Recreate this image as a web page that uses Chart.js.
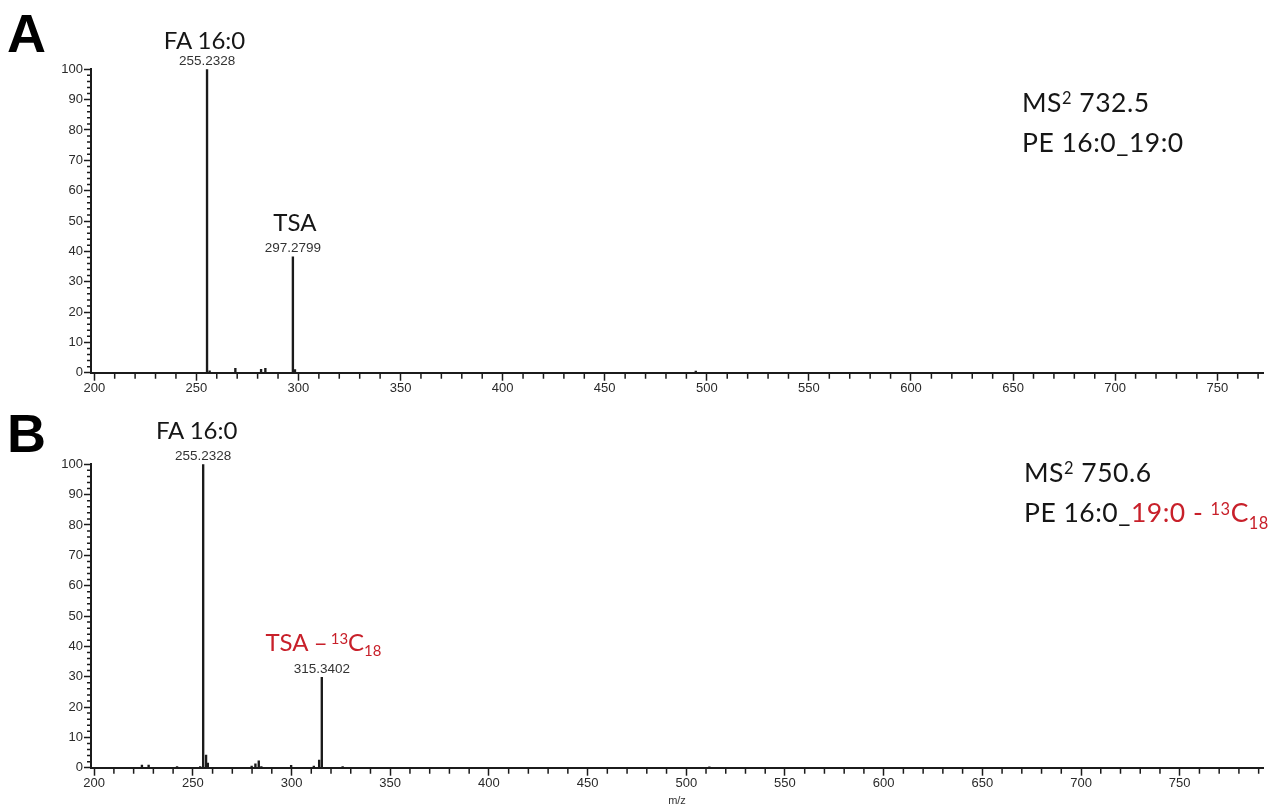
<!DOCTYPE html>
<html>
<head>
<meta charset="utf-8">
<script src="https://cdn.jsdelivr.net/npm/chart.js@4.4.1/dist/chart.umd.min.js"></script>
<style>
  html, body { margin: 0; padding: 0; background: #fff; }
  body { width: 1288px; height: 810px; position: relative; overflow: hidden; font-family: Lato, "Open Sans", sans-serif; }
  .panel { position: absolute; left: 0; width: 1288px; }
  #panelA { top: 0; height: 400px; }
  #panelB { top: 400px; height: 410px; }
  .letter { position: absolute; left: 7px; font: bold 54px "Liberation Sans", Arial, sans-serif; line-height: 54px; color: #000; }
  .info { position: absolute; font-size: 26.5px; letter-spacing: 0.5px; line-height: 37.7px; color: #161616; white-space: nowrap; }
  .tag { position: absolute; white-space: nowrap; transform: translate(-50%, -50%); line-height: 1; }
  .tag.mz { font: 13.5px "Liberation Sans", Arial, sans-serif; color: #333; }
  .tag.name { font-size: 24px; color: #161616; }
  .red { color: #c8202a; }
  .sup { font-size: 0.62em; position: relative; top: -0.45em; }
  .sub { font-size: 0.62em; position: relative; top: 0.38em; }
</style>
</head>
<body>
<div class="panel" id="panelA"><canvas id="chartA" width="1288" height="400"></canvas></div>
<div class="panel" id="panelB"><canvas id="chartB" width="1288" height="410"></canvas></div>

<div class="letter" style="top:6px">A</div>
<div class="letter" style="top:406px">B</div>

<div class="info" style="left:1022px; top:83.6px">MS<span class="sup">2</span> 732.5<br>PE 16:0_19:0</div>
<div class="info" style="left:1024px; top:453.6px">MS<span class="sup">2</span> 750.6<br>PE 16:0_<span class="red">19:0 - <span class="sup">13</span>C<span class="sub">18</span></span></div>

<script>
// m/z range shared by both spectra
const mzMin = 198.4;

// spectrum A: MS2 of 732.5
const mzA  = [255.2328, 256.5, 269.1, 281.7, 283.8, 297.2799, 298.3, 494.6];
const intA = [100,      0.6,   1.4,   1.1,   1.4,   38.2,     1.0,   0.5];
const mzMaxA = 772.4;
const tagMzA   = [255.2328, 297.2799];
const tagNameA = ['FA 16:0', 'TSA'];

// spectrum B: MS2 of 750.6 (13C18 labelled)
const mzB  = [224.2, 227.6, 242.0, 253.7, 255.2328, 256.7, 257.6, 279.8, 281.7, 283.4, 284.7, 299.8, 311.3, 314.0, 315.3402, 325.9, 511.7];
const intB = [0.9,   0.9,   0.4,   0.4,   100,      4.2,   1.5,   0.5,   1.3,   2.3,   0.4,   0.8,   0.5,   2.5,   29.8,     0.4,   0.3];
const mzMaxB = 792.2;
const tagMzB   = [255.2328, 315.3402];
const tagNameB = ['FA 16:0', '<span class="red">TSA –<span class="sup" style="margin-left:3px">13</span>C<span class="sub">18</span></span>'];

// labelled every 50, minor marks every 10 (x) and 2 (y)
const xMajor = 50, xMinor = 10, yMajor = 10, yMinor = 2;

// small nudges for the name labels (px), picked by eye
const nudgeA = [{ dx: -2.5, dy: -29.3 }, { dx: 2, dy: -35 }];
const nudgeB = [{ dx: -6.5, dy: -34.3 }, { dx: 1.6, dy: -35.6 }];

const ink = '#1b1b1b';
const tickFont = { family: '"Liberation Sans", Arial, sans-serif', size: 13 };

const minorTicks = {
  id: 'minorTicks',
  afterDraw(chart) {
    const { ctx, scales: { x, y } } = chart;
    ctx.save();
    ctx.strokeStyle = ink;
    ctx.lineWidth = 1.5;
    ctx.beginPath();
    for (let v = Math.ceil(x.min / xMinor) * xMinor; v <= x.max; v += xMinor) {
      if (v % xMajor === 0) continue;
      const px = x.getPixelForValue(v);
      ctx.moveTo(px, x.top);
      ctx.lineTo(px, x.top + 6);
    }
    for (let v = yMinor; v < y.max; v += yMinor) {
      if (v % yMajor === 0) continue;
      const py = y.getPixelForValue(v);
      ctx.moveTo(y.right, py);
      ctx.lineTo(y.right - 4, py);
    }
    ctx.stroke();
    ctx.restore();
  }
};

// peak labels are html, placed from the chart scales after each draw
function peakTags(panelTop, mzs, ints, tagMz, tagNames, nudges) {
  const items = tagMz.map((m, i) => {
    const mzEl = document.createElement('div');
    mzEl.className = 'tag mz';
    mzEl.textContent = m.toFixed(4);
    const nameEl = document.createElement('div');
    nameEl.className = 'tag name';
    nameEl.innerHTML = tagNames[i];
    document.body.appendChild(mzEl);
    document.body.appendChild(nameEl);
    return { mz: m, height: ints[mzs.indexOf(m)], mzEl, nameEl, nudge: nudges[i] };
  });
  return {
    id: 'peakTags',
    afterDraw(chart) {
      const { x, y } = chart.scales;
      items.forEach(it => {
        const px = x.getPixelForValue(it.mz);
        const py = panelTop + y.getPixelForValue(it.height);
        it.mzEl.style.left = px + 'px';
        it.mzEl.style.top = (py - 9.5) + 'px';
        it.nameEl.style.left = (px + it.nudge.dx) + 'px';
        it.nameEl.style.top = (py + it.nudge.dy) + 'px';
      });
    }
  };
}

function makeSpectrum(canvasId, mzs, ints, mzMax, padTop, axisHeight, withTitle, tags) {
  return new Chart(document.getElementById(canvasId), {
    type: 'bar',
    data: {
      datasets: [{
        data: mzs.map((m, i) => ({ x: m, y: ints[i] })),
        backgroundColor: ink,
        borderWidth: 0,
        barThickness: 1.7
      }]
    },
    options: {
      responsive: false,
      animation: false,
      events: [],
      layout: { padding: { top: padTop, right: 25, left: 0, bottom: 0 } },
      plugins: { legend: { display: false }, tooltip: { enabled: false } },
      scales: {
        x: {
          type: 'linear',
          offset: false,
          min: mzMin,
          max: mzMax,
          // chart.js drops 200 / 750 as too close to the odd bounds, so list them ourselves
          afterBuildTicks: s => {
            s.ticks = [];
            for (let v = Math.ceil(s.min / xMajor) * xMajor; v <= s.max; v += xMajor) s.ticks.push({ value: v });
          },
          afterFit: s => { s.height = axisHeight; },
          ticks: { autoSkip: false, maxRotation: 0, padding: 0, color: '#2a2a2a', font: tickFont },
          grid: { offset: false, drawOnChartArea: false, tickLength: 8, tickWidth: 1.5, tickColor: ink },
          border: { color: ink, width: 2 },
          title: {
            display: withTitle,
            text: 'm/z',
            color: '#333',
            font: { family: '"Liberation Sans", Arial, sans-serif', size: 11 },
            padding: { top: 0, bottom: 2 }
          }
        },
        y: {
          min: 0,
          max: 100,
          afterFit: s => { s.width = 91; },
          ticks: { stepSize: yMajor, padding: 1, color: '#2a2a2a', font: tickFont },
          grid: { drawOnChartArea: false, tickLength: 7, tickWidth: 1.5, tickColor: ink },
          border: { color: ink, width: 2 }
        }
      }
    },
    plugins: [minorTicks, tags]
  });
}

makeSpectrum('chartA', mzA, intA, mzMaxA, 69.3, 27.3, false,
  peakTags(0, mzA, intA, tagMzA, tagNameA, nudgeA));
makeSpectrum('chartB', mzB, intB, mzMaxB, 64.3, 42.3, true,
  peakTags(400, mzB, intB, tagMzB, tagNameB, nudgeB));
</script>
</body>
</html>
